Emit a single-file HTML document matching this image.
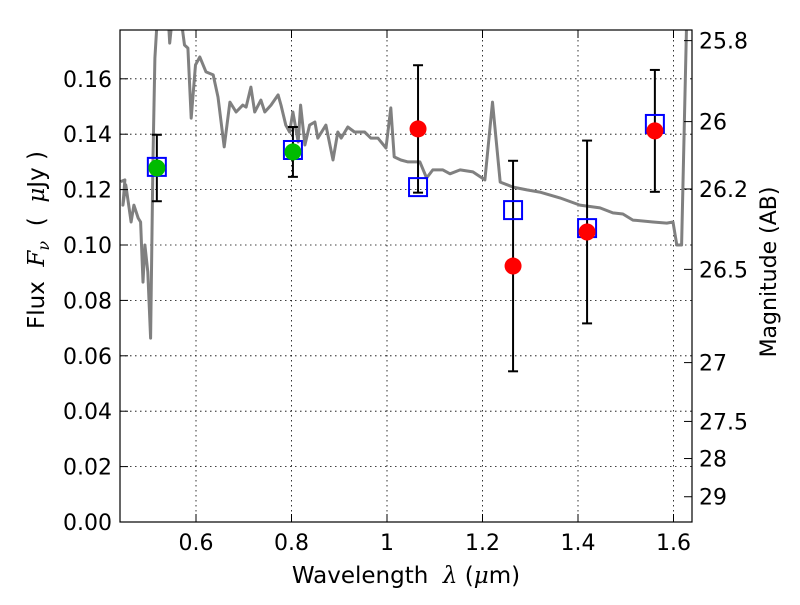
<!DOCTYPE html>
<html><head><meta charset="utf-8"><style>
body{margin:0;background:#fff;}
svg text{font-family:"DejaVu Sans","Liberation Sans",sans-serif;fill:#000;}
</style></head><body>
<svg id="chart" width="800" height="600" xmlns="http://www.w3.org/2000/svg">
<rect width="800" height="600" fill="#fff"/>
<defs><clipPath id="clip"><rect x="120" y="30" width="572" height="492"/></clipPath></defs>
<g id="grid"></g>
<g id="spec" clip-path="url(#clip)"></g>
<g id="marks" clip-path="url(#clip)"></g>
<rect x="120" y="30" width="572" height="492" fill="none" stroke="#000" stroke-width="1.2"/>
<g id="axes"></g>
<text x="406" y="583" font-size="23" text-anchor="middle" xml:space="preserve">Wavelength  <tspan font-style="italic" font-family="DejaVu Serif, serif">λ</tspan> (<tspan font-style="italic" font-family="DejaVu Serif, serif">μ</tspan>m)</text>
<text transform="translate(44,240) rotate(-90)" font-size="23" text-anchor="middle" xml:space="preserve">Flux  <tspan font-style="italic" font-family="DejaVu Serif, serif">F<tspan font-size="16" dy="5">ν</tspan></tspan><tspan dy="-5">  (  </tspan><tspan font-style="italic" font-family="DejaVu Serif, serif">μ</tspan>Jy )</text>
<text transform="translate(776,272) rotate(-90)" font-size="22" text-anchor="middle">Magnitude (AB)</text>
</svg>
<script>
const specLam=[0.442,0.451,0.447,0.453,0.464,0.470,0.479,0.484,0.489,0.493,0.499,0.505,0.510,0.514,0.520,0.541,0.545,0.552,0.566,0.576,0.583,0.590,0.599,0.608,0.621,0.636,0.646,0.659,0.671,0.684,0.698,0.705,0.715,0.723,0.736,0.744,0.757,0.772,0.778,0.788,0.796,0.803,0.814,0.819,0.828,0.838,0.849,0.855,0.872,0.887,0.897,0.904,0.918,0.932,0.953,0.966,0.981,0.998,1.008,1.015,1.029,1.044,1.048,1.069,1.083,1.096,1.117,1.132,1.153,1.180,1.205,1.221,1.237,1.264,1.293,1.320,1.362,1.404,1.446,1.473,1.494,1.515,1.557,1.586,1.599,1.607,1.617,1.628,1.632];
const specFlux=[0.1229,0.1235,0.1144,0.1217,0.1083,0.1144,0.1097,0.1083,0.0866,0.1000,0.0903,0.0664,0.1314,0.1675,0.185,0.185,0.1729,0.185,0.185,0.1722,0.1711,0.1458,0.1650,0.1679,0.1625,0.1614,0.1534,0.1354,0.1516,0.1480,0.1505,0.1498,0.1570,0.1480,0.1523,0.1480,0.1505,0.1542,0.1505,0.1433,0.1408,0.1480,0.1372,0.1505,0.1361,0.1433,0.1444,0.1386,0.1433,0.1307,0.1408,0.1386,0.1426,0.1408,0.1408,0.1386,0.1386,0.1350,0.1495,0.1318,0.1307,0.1300,0.1300,0.1300,0.1242,0.1271,0.1271,0.1257,0.1271,0.1264,0.1235,0.1516,0.1227,0.1209,0.1199,0.1191,0.1170,0.1144,0.1134,0.1116,0.1112,0.1090,0.1083,0.1079,0.1083,0.1000,0.1000,0.185,0.19];
const obsLam=[0.518,0.803,1.065,1.264,1.419,1.561];
const obsFlux=[0.1278,0.1336,0.1419,0.0924,0.1047,0.1412];
const obsErr=[0.012,0.009,0.023,0.038,0.033,0.022];
const obsColor=['#00bb00','#00bb00','#ff0000','#ff0000','#ff0000','#ff0000'];
const modelFlux=[0.1282,0.1343,0.1209,0.1126,0.1061,0.1437];
const xTicks=[0.6,0.8,1.0,1.2,1.4,1.6];
const xTickLabels=['0.6','0.8','1','1.2','1.4','1.6'];
const yTicks=[0,0.02,0.04,0.06,0.08,0.10,0.12,0.14,0.16];
const yTickLabels=['0.00','0.02','0.04','0.06','0.08','0.10','0.12','0.14','0.16'];
const magTicks=[25.8,26,26.2,26.5,27,27.5,28,29];
const magLabels=['25.8','26','26.2','26.5','27','27.5','28','29'];

const NS='http://www.w3.org/2000/svg';
const X=l=>196+(l-0.6)*477.5;
const Y=f=>522-f*2770;
function mk(tag,attrs,parent){const e=document.createElementNS(NS,tag);for(const k in attrs)e.setAttribute(k,attrs[k]);parent.appendChild(e);return e;}
const grid=document.getElementById('grid'),axes=document.getElementById('axes'),spec=document.getElementById('spec'),marks=document.getElementById('marks');

xTicks.forEach((t,i)=>{const x=X(t);
 let g=mk('line',{x1:x,x2:x,y1:30,y2:522,stroke:'#000','stroke-width':0.8,'stroke-dasharray':'1.5,3.5'},grid);
 
 mk('line',{x1:x,x2:x,y1:522,y2:514,stroke:'#000'},axes);
 mk('line',{x1:x,x2:x,y1:30,y2:38,stroke:'#000'},axes);
 let tx=mk('text',{x:x,y:550,'font-size':22,'text-anchor':'middle'},axes);tx.textContent=xTickLabels[i];
 });
yTicks.forEach((t,i)=>{const y=Y(t);
 if(t>0){let g=mk('line',{x1:120,x2:692,y1:y,y2:y,stroke:'#000','stroke-width':0.8,'stroke-dasharray':'1.5,3.5'},grid);
 }
 mk('line',{x1:120,x2:128,y1:y,y2:y,stroke:'#000'},axes);
 let tx=mk('text',{x:112,y:y+8,'font-size':22,'text-anchor':'end'},axes);tx.textContent=yTickLabels[i];
 });
magTicks.forEach((m,i)=>{const y=Y(Math.pow(10,(23.9-m)/2.5));
 mk('line',{x1:684,x2:692,y1:y,y2:y,stroke:'#000'},axes);
 let tx=mk('text',{x:699,y:y+8,'font-size':22},axes);tx.textContent=magLabels[i];
 });

let d='';specLam.forEach((l,i)=>{d+=(i?'L':'M')+X(l).toFixed(1)+','+Y(specFlux[i]).toFixed(1);});
const sp=mk('path',{d:d,fill:'none',stroke:'#808080','stroke-width':3,'stroke-linejoin':'round'},spec);


obsLam.forEach((l,i)=>{const x=X(l);
 const y1=Y(obsFlux[i]+obsErr[i]),y2=Y(obsFlux[i]-obsErr[i]);
 const e=mk('g',{stroke:'#000','stroke-width':2},marks);
 
 mk('line',{x1:x,x2:x,y1:y1,y2:y2},e);mk('line',{x1:x-5,x2:x+5,y1:y1,y2:y1},e);mk('line',{x1:x-5,x2:x+5,y1:y2,y2:y2},e);
 const s=mk('rect',{x:x-9,y:Y(modelFlux[i])-9,width:18,height:18,fill:'none',stroke:'#0000ff','stroke-width':2},marks);
 
 const c=mk('circle',{cx:x,cy:Y(obsFlux[i]),r:8.5,fill:obsColor[i]},marks);
 
});
</script>
</body></html>
